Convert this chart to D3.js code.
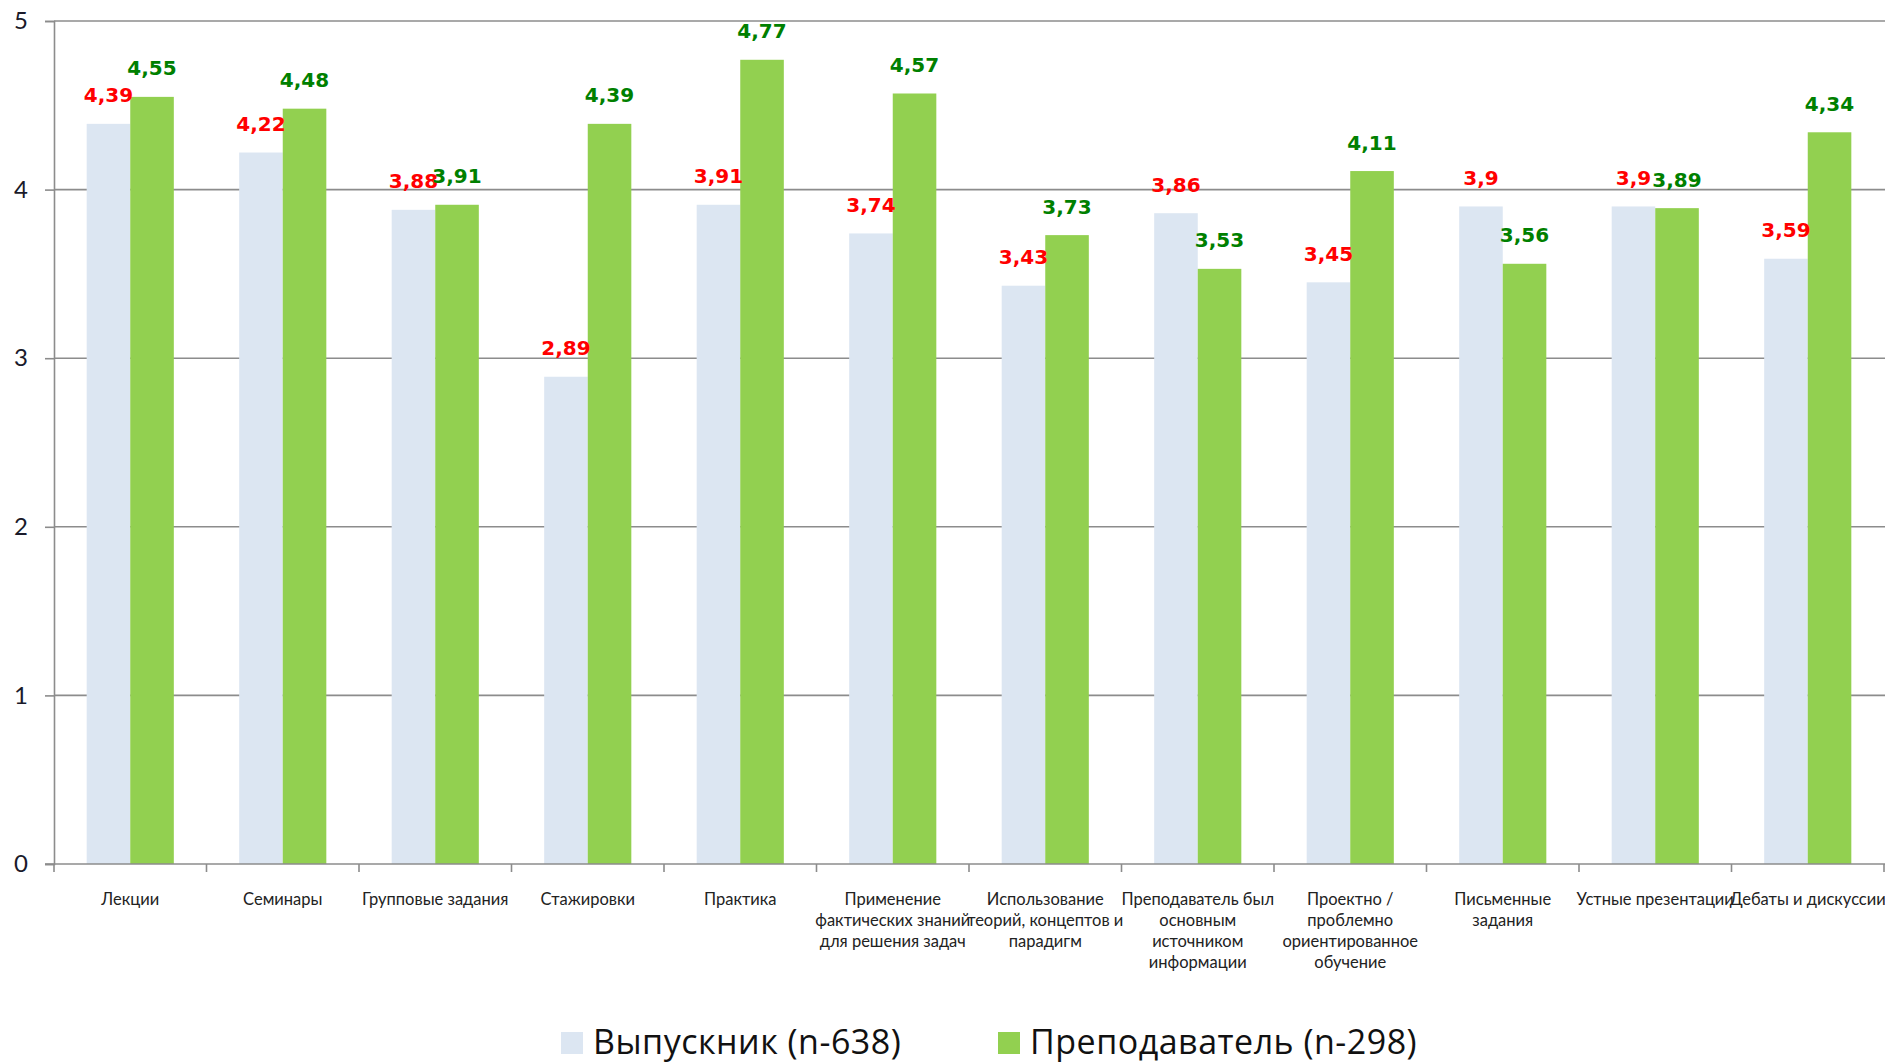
<!DOCTYPE html>
<html>
<head>
<meta charset="utf-8">
<script src="https://cdn.jsdelivr.net/npm/d3@7"></script>
<style>
  body { margin: 0; background: #fff; }
  svg { display: block; }
</style>
</head>
<body>
<script>
// categories (label lines as they wrap under the axis)
let categories = [
    ["Лекции"],
    ["Семинары"],
    ["Групповые задания"],
    ["Стажировки"],
    ["Практика"],
    ["Применение", "фактических знаний", "для решения задач"],
    ["Использование", "теорий, концептов и", "парадигм"],
    ["Преподаватель был", "основным", "источником", "информации"],
    ["Проектно /", "проблемно", "ориентированное", "обучение"],
    ["Письменные", "задания"],
    ["Устные презентации"],
    ["Дебаты и дискуссии"]
];
let seriesNames = ["Выпускник (n-638)", "Преподаватель (n-298)"];
let graduates = [4.39, 4.22, 3.88, 2.89, 3.91, 3.74, 3.43, 3.86, 3.45, 3.9, 3.9, 3.59];
let teachers = [4.55, 4.48, 3.91, 4.39, 4.77, 4.57, 3.73, 3.53, 4.11, 3.56, 3.89, 4.34];
let yTicks = [0, 1, 2, 3, 4, 5];

let w = 1885;
let h = 1063;
let plotLeft = 54, plotRight = 1884, plotTop = 21, plotBottom = 864;

let barFill = ["#dce6f2", "#92d050"];
let labelFill = ["#ff0000", "#008000"];

let ids = categories.map(function(d, i) { return i; });

let svg = d3.select("body")
    .append("svg")
    .attr("width", w)
    .attr("height", h);

let xScale = d3.scaleBand()
    .domain(ids)
    .range([plotLeft, plotRight])
    .padding(0);

// excel style gap width 150%
let xSub = d3.scaleBand()
    .domain([0, 1])
    .range([0, xScale.bandwidth()])
    .paddingInner(0)
    .paddingOuter(0.75);

let yScale = d3.scaleLinear()
    .domain([0, 5])
    .range([plotBottom, plotTop]);

// gridlines
svg.append("g")
    .selectAll("line")
    .data(yTicks.filter(function(d) { return d > 0; }))
    .enter()
    .append("line")
    .attr("x1", plotLeft)
    .attr("x2", w)
    .attr("y1", function(d) { return yScale(d); })
    .attr("y2", function(d) { return yScale(d); })
    .attr("stroke", "#8c8c8c")
    .attr("stroke-width", 1.6);

// y axis
let yAxis = svg.append("g")
    .attr("transform", "translate(" + plotLeft + ",0)")
    .call(d3.axisLeft(yScale).tickValues(yTicks).tickSize(9).tickFormat(d3.format("d")));
yAxis.select(".domain").attr("stroke", "#8c8c8c").attr("stroke-width", 1.6);
yAxis.selectAll(".tick line").attr("stroke", "#8c8c8c").attr("stroke-width", 1.6);
yAxis.selectAll(".tick text")
    .attr("x", -33)
    .attr("text-anchor", "middle")
    .attr("font-family", "Lato, sans-serif")
    .attr("font-size", "24px")
    .attr("fill", "#1a1a2a");

// bars
let data = ids.map(function(i) {
    return [graduates[i], teachers[i]];
});

let groups = svg.append("g")
    .selectAll("g")
    .data(data)
    .enter()
    .append("g")
    .attr("transform", function(d, i) { return "translate(" + xScale(i) + ",0)"; });

groups.selectAll("rect")
    .data(function(d) { return d; })
    .enter()
    .append("rect")
    .attr("x", function(d, j) { return xSub(j); })
    .attr("width", xSub.bandwidth())
    .attr("y", function(d) { return yScale(d); })
    .attr("height", function(d) { return plotBottom - yScale(d); })
    .attr("fill", function(d, j) { return barFill[j]; });

// x axis line + ticks
svg.append("line")
    .attr("x1", plotLeft - 9)
    .attr("x2", w)
    .attr("y1", plotBottom)
    .attr("y2", plotBottom)
    .attr("stroke", "#8c8c8c")
    .attr("stroke-width", 1.6);

svg.append("g")
    .selectAll("line")
    .data(ids.concat([ids.length]))
    .enter()
    .append("line")
    .attr("x1", function(i) { return plotLeft + i * xScale.step(); })
    .attr("x2", function(i) { return plotLeft + i * xScale.step(); })
    .attr("y1", plotBottom)
    .attr("y2", plotBottom + 8)
    .attr("stroke", "#8c8c8c")
    .attr("stroke-width", 1.6);

// value labels
groups.selectAll("text")
    .data(function(d) { return d; })
    .enter()
    .append("text")
    .attr("x", function(d, j) { return xSub(j) + xSub.bandwidth() / 2; })
    .attr("y", function(d) { return yScale(d) - 21.5; })
    .attr("text-anchor", "middle")
    .attr("font-family", "'DejaVu Sans', sans-serif")
    .attr("font-weight", "bold")
    .attr("font-size", "20px")
    .attr("fill", function(d, j) { return labelFill[j]; })
    .text(function(d) { return String(d).replace(".", ","); });

// category labels
svg.append("g")
    .selectAll("text")
    .data(categories)
    .enter()
    .append("text")
    .attr("x", function(d, i) { return xScale(i) + xScale.bandwidth() / 2; })
    .attr("y", 905)
    .attr("text-anchor", "middle")
    .attr("font-family", "Lato, sans-serif")
    .attr("font-size", "16.5px")
    .attr("fill", "#222")
    .selectAll("tspan")
    .data(function(d) { return d; })
    .enter()
    .append("tspan")
    .attr("x", function() { return d3.select(this.parentNode).attr("x"); })
    .attr("dy", function(d, k) { return k === 0 ? 0 : 21; })
    .text(function(d) { return d; });

// legend
let legendX = [561, 998];
let legend = svg.append("g")
    .selectAll("g")
    .data(seriesNames)
    .enter()
    .append("g")
    .attr("transform", function(d, i) { return "translate(" + legendX[i] + ",1032)"; });

legend.append("rect")
    .attr("width", 22)
    .attr("height", 22)
    .attr("fill", function(d, i) { return barFill[i]; });

legend.append("text")
    .attr("x", 32)
    .attr("y", 21.5)
    .attr("font-family", "'Open Sans', sans-serif")
    .attr("font-size", "34px")
    .attr("letter-spacing", "0.5px")
    .attr("fill", "#111")
    .text(function(d) { return d; });
</script>
</body>
</html>
